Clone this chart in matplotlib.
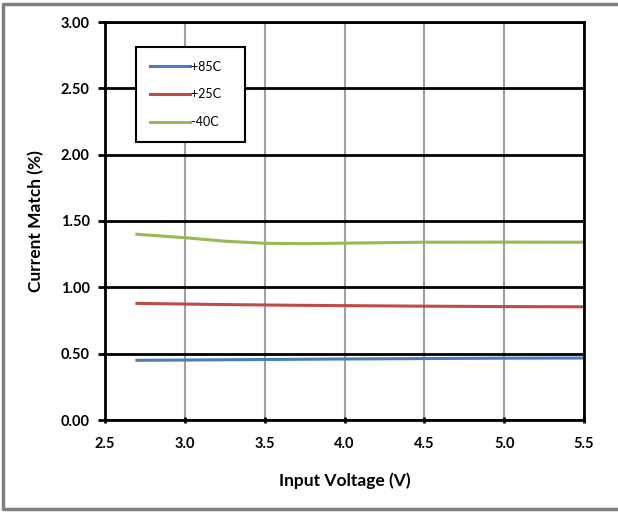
import matplotlib.pyplot as plt
from matplotlib.lines import Line2D

vin = [2.7, 3.0, 3.25, 3.5, 3.75, 4.0, 4.5, 5.0, 5.5]
match_85 = [0.450, 0.452, 0.454, 0.456, 0.458, 0.460, 0.463, 0.466, 0.467]
match_25 = [0.879, 0.874, 0.870, 0.867, 0.864, 0.862, 0.858, 0.855, 0.853]
match_m40 = [1.400, 1.374, 1.348, 1.332, 1.329, 1.333, 1.340, 1.341, 1.340]

labels = ["+85C", "+25C", "-40C"]
colors = ["#4a7ebb", "#be4b48", "#98b954"]

plt.rcParams["font.family"] = ["Lato", "DejaVu Sans"]

fig = plt.figure(figsize=(6.18, 5.12), dpi=100)
ax = fig.add_axes([105 / 618, 92 / 512, 479 / 618, 398 / 512])

for y, lab, c in zip([match_85, match_25, match_m40], labels, colors):
    ax.plot(vin, y, color=c, lw=2.2, label=lab)

ax.set_xlim(2.5, 5.5)
ax.set_ylim(0, 3.0)
ax.set_xticks([2.5, 3.0, 3.5, 4.0, 4.5, 5.0, 5.5])
ax.set_yticks([0, 0.5, 1.0, 1.5, 2.0, 2.5, 3.0])
ax.set_xticklabels([f"{v:.1f}" for v in ax.get_xticks()], fontweight="bold")
ax.set_yticklabels([f"{v:.2f}" for v in ax.get_yticks()], fontweight="bold")
ax.tick_params(axis="both", labelsize=10.5, width=2, length=5, color="black")
ax.tick_params(axis="x", direction="inout", pad=10)
ax.tick_params(axis="y", direction="out", pad=6)

ax.yaxis.grid(True, color="black", lw=2)
ax.xaxis.grid(True, color="#a0a0a0", lw=1.5)
ax.set_axisbelow(True)
for s in ax.spines.values():
    s.set_linewidth(2)

ax.set_xlabel("Input Voltage (V)", fontsize=12.5, fontweight="bold", labelpad=15)
ax.set_ylabel("Current Match (%)", fontsize=12.5, fontweight="bold", labelpad=12)

leg = ax.legend(loc="upper left", bbox_to_anchor=(31 / 479, 1 - 25 / 398),
                frameon=True, fancybox=False, fontsize=9, handlelength=3.2,
                handletextpad=0.1, labelspacing=1.25, borderpad=1.1,
                borderaxespad=0)
leg.get_frame().set_edgecolor("black")
leg.get_frame().set_linewidth(1.5)
leg.get_frame().set_alpha(1)
# pad the right side of the legend box
for t in leg.get_texts():
    t.set_text(t.get_text() + "   ")

# outer frame: left, top, bottom (open on the right)
fig.add_artist(Line2D([1.0, 3 / 618, 3 / 618, 1.0],
                      [1 - 4 / 512, 1 - 4 / 512, 3 / 512, 3 / 512],
                      transform=fig.transFigure, color="#808080", lw=2.5))

fig.savefig("out.png", dpi=100)
